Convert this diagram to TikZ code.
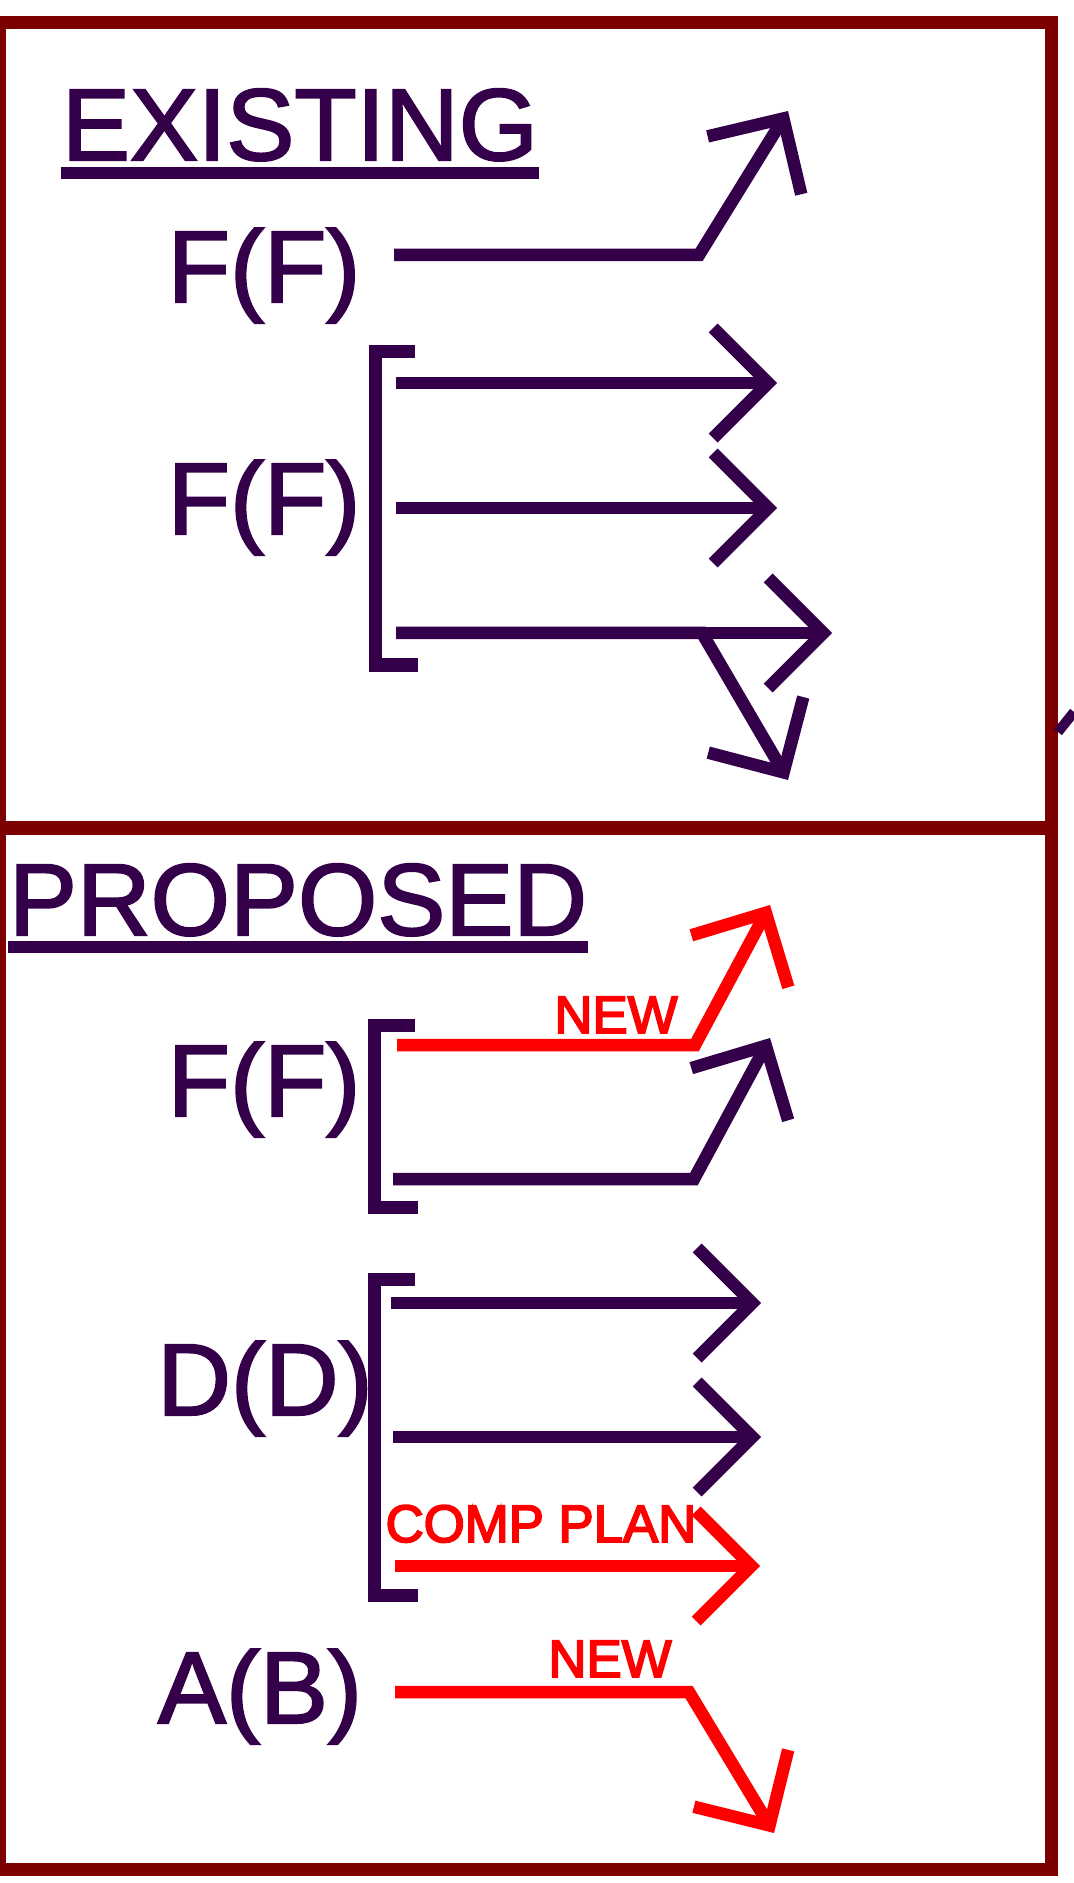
\documentclass[tikz,border=0pt]{standalone}
\usepackage{fontspec}
\setmainfont{Liberation Sans}
\newfontfamily\heavy{Liberation Sans}[FakeBold=2]
\newfontfamily\heavysmall{Liberation Sans}[FakeBold=3.5]
\usetikzlibrary{arrows.meta,calc}

\definecolor{ink}{RGB}{52,0,74}
\definecolor{hot}{RGB}{255,0,0}
\definecolor{maroon}{RGB}{125,0,0}

\begin{document}
\begin{tikzpicture}[x=0.01cm, y=-0.01cm, line join=miter, line cap=butt,
    >={Straight Barb[length=0.55cm, width=1.1cm]},
    lbl/.style={text=ink, font=\heavy\fontsize{29}{30}\selectfont, inner sep=0pt, anchor=base},
    newtxt/.style={text=hot, font=\heavysmall\fontsize{15}{16}\selectfont, inner sep=0pt, anchor=base},
    wire/.style={draw=ink, line width=0.125cm},
    redwire/.style={draw=hot, line width=0.125cm},
    brkt/.style={draw=ink, line width=0.13cm},
    uline/.style={draw=ink, line width=0.12cm},
    boxline/.style={draw=maroon, line width=0.13cm}]
    \useasboundingbox (0,0) rectangle (1074,1883);

    \draw[boxline] (-1,23) rectangle (1051,1869);
    \draw[boxline] (-1,828) -- (1051,828);

    \node[lbl] (exist) at (300,160) {EXISTING};
    \node[lbl] (prop) at (298,935) {PROPOSED};
    \node[lbl] (ff1) at (264,302) {F(F)};
    \node[lbl] (ff2) at (264,534) {F(F)};
    \node[lbl] (ff3) at (264,1116) {F(F)};
    \node[lbl] (dd) at (265,1415) {D(D)};
    \node[lbl] (ab) at (260,1723) {A(B)};
    \node[newtxt] (new1) at (616,1033) {NEW};
    \node[newtxt] (comp) at (541,1542) {COMP PLAN};
    \node[newtxt] (new2) at (610,1677) {NEW};

    \draw[uline] ($(exist.base west)+(0,13)$) -- ($(exist.base east)+(0,13)$);
    \draw[uline] ($(prop.base west)+(0,12)$) -- ($(prop.base east)+(0,12)$);

    % existing
    \coordinate (a1) at (394,255);
    \coordinate (a1k) at (699,255);
    \coordinate (a1t) at (788,111);
    \coordinate (b1) at (396,383);
    \coordinate (b1t) at (777,383);
    \coordinate (b2) at (396,508);
    \coordinate (b2t) at (777,508);
    \coordinate (b3) at (396,633);
    \coordinate (b3k) at (702,633);
    \coordinate (b3t) at (832,633);
    \coordinate (b4t) at (788,780);
    % proposed
    \coordinate (c1) at (397,1045);
    \coordinate (c1k) at (695,1045);
    \coordinate (c1t) at (770,905);
    \coordinate (c2) at (393,1179);
    \coordinate (c2k) at (694,1179);
    \coordinate (c2t) at (770,1038);
    \coordinate (d1) at (391,1303);
    \coordinate (d1t) at (761,1303);
    \coordinate (d2) at (393,1437);
    \coordinate (d2t) at (761,1437);
    \coordinate (d3) at (395,1566);
    \coordinate (d3t) at (760,1566);
    \coordinate (e1) at (395,1692);
    \coordinate (e1k) at (689,1692);
    \coordinate (e1t) at (774,1833);
    \coordinate (cut) at (1058,732);
    \coordinate (cutt) at (1074,712);

    \draw[brkt] (415,352) -- (375,352) -- (375,665) -- (418,665);
    \draw[brkt] (415,1025) -- (374,1025) -- (374,1207) -- (418,1207);
    \draw[brkt] (415,1279) -- (374,1279) -- (374,1595) -- (418,1595);

    \draw[wire, ->] (a1) -- (a1k) -- (a1t);
    \draw[wire, ->] (b1) -- (b1t);
    \draw[wire, ->] (b2) -- (b2t);
    \draw[wire, ->] (b3) -- (b3t);
    \draw[wire, ->] (b3) -- (b3k) -- (b4t);
    \draw[wire, line width=0.1cm] (cut) -- (cutt);

    \draw[redwire, ->] (c1) -- (c1k) -- (c1t);
    \draw[wire, ->] (c2) -- (c2k) -- (c2t);
    \draw[wire, ->] (d1) -- (d1t);
    \draw[wire, ->] (d2) -- (d2t);
    \draw[redwire, ->] (d3) -- (d3t);
    \draw[redwire, ->] (e1) -- (e1k) -- (e1t);
\end{tikzpicture}
\end{document}
